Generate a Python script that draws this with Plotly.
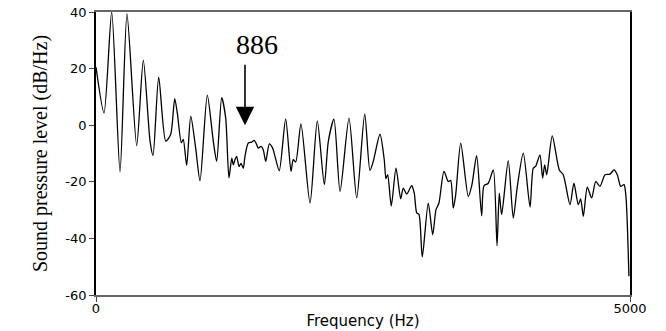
import plotly.graph_objects as go

freq_hz = [0, 75, 147, 225, 290, 381, 443, 506, 534, 587, 653, 699, 737, 763, 799, 817, 849,
           887, 933, 974, 1042, 1098, 1130, 1177, 1214, 1245, 1271, 1286, 1301, 1317, 1339,
           1358, 1379, 1395, 1426, 1458, 1479, 1498, 1520, 1545, 1566, 1589, 1623, 1654,
           1676, 1716, 1776, 1826, 1847, 1870, 1919, 2004, 2072, 2138, 2175, 2228, 2285,
           2369, 2441, 2516, 2565, 2596, 2659, 2699, 2715, 2731, 2765, 2809, 2853, 2877,
           2909, 2956, 2980, 3003, 3024, 3055, 3111, 3153, 3183, 3211, 3258, 3299, 3321,
           3345, 3368, 3415, 3486, 3520, 3564, 3611, 3633, 3673, 3720, 3755, 3776, 3798,
           3860, 3907, 3945, 4001, 4064, 4094, 4117, 4157, 4182, 4201, 4220, 4272, 4338,
           4375, 4438, 4475, 4516, 4538, 4563, 4600, 4641, 4679, 4719, 4766, 4813, 4850,
           4881, 4913, 4944, 4962, 4990]
level_db = [20.5, 4.3, 40.0, -16.5, 39.3, -7.2, 23.0, -5.6, -10.7, 17.0, -5.6, -3.3, 9.4, 3.8,
            -6.2, -5.0, -14.2, 3.2, -8.0, -19.7, 10.6, -5.6, -12.7, 9.7, 2.6, -18.6, -11.6,
            -14.0, -12.2, -11.0, -14.6, -13.5, -15.2, -11.0, -6.3, -6.0, -5.4, -6.3, -8.1,
            -7.5, -8.7, -12.8, -6.6, -8.1, -11.0, -16.1, 2.2, -16.3, -12.2, -13.0, 0.5,
            -27.5, 1.5, -21.0, -5.8, 2.1, -23.4, 2.5, -25.7, 4.0, -16.0, -12.8, -3.2, -12.2,
            -18.9, -17.5, -28.5, -15.2, -26.0, -22.2, -24.3, -21.4, -24.0, -31.0, -31.5,
            -46.6, -27.5, -38.7, -29.9, -27.5, -16.3, -19.9, -19.5, -29.3, -24.6, -6.3,
            -25.2, -21.0, -10.8, -32.0, -21.4, -20.5, -15.8, -42.6, -24.0, -31.6, -12.5,
            -32.8, -21.6, -9.9, -28.9, -15.2, -14.5, -10.5, -18.7, -14.0, -17.5, -3.8, -15.8,
            -17.5, -28.1, -20.5, -28.1, -26.0, -32.2, -21.9, -25.7, -19.9, -21.6, -17.5,
            -17.3, -15.8, -17.5, -21.6, -21.0, -25.2, -53.4]

y_ticks = [-60, -40, -20, 0, 20, 40]
y_tick_labels = ["-60", "-40", "-20", "0", "20", "40"]
x_ticks = [0, 5000]
x_tick_labels = ["0", "5000"]
marker_hz = 1395
marker_label = "886"

fig = go.Figure()
fig.add_trace(go.Scatter(x=freq_hz, y=level_db, mode="lines",
                         line=dict(color="black", width=1.3, shape="spline", smoothing=0.7),
                         showlegend=False, hoverinfo="skip"))

tick_font = dict(family="DejaVu Sans", size=13, color="black")
fig.update_xaxes(range=[0, 5000], tickvals=x_ticks, ticktext=x_tick_labels,
                 ticks="outside", ticklen=5, tickcolor="#444", showgrid=False,
                 zeroline=False, showline=True, linecolor="#666", linewidth=1.5,
                 mirror=True, tickfont=tick_font, automargin=False,
                 ticklabelstandoff=-4,
                 title=dict(text="Frequency (Hz)", standoff=0,
                            font=dict(family="DejaVu Sans", size=15, color="black")))
fig.update_yaxes(range=[-60, 40], tickvals=y_ticks, ticktext=y_tick_labels,
                 ticks="outside", ticklen=5, tickcolor="#444", showgrid=False,
                 zeroline=False, showline=True, linecolor="black", linewidth=1.8,
                 mirror=True, tickfont=tick_font, automargin=False,
                 title=dict(text="Sound pressure level (dB/Hz)", standoff=12,
                            font=dict(family="Liberation Serif", size=20, color="black")))

fig.add_annotation(x=marker_hz, y=0, xref="x", yref="y", text="", showarrow=True,
                   ax=0, ay=-62, arrowhead=2, arrowsize=2.3, arrowwidth=1.6,
                   arrowcolor="black")
fig.add_annotation(x=marker_hz, y=0, xref="x", yref="y", text=marker_label,
                   showarrow=False, xshift=12, yshift=81,
                   font=dict(family="Liberation Serif", size=28, color="black"))

fig.update_layout(width=666, height=331, margin=dict(l=96, r=36, t=12, b=36),
                  paper_bgcolor="white", plot_bgcolor="white")
fig.write_html("out.html")
